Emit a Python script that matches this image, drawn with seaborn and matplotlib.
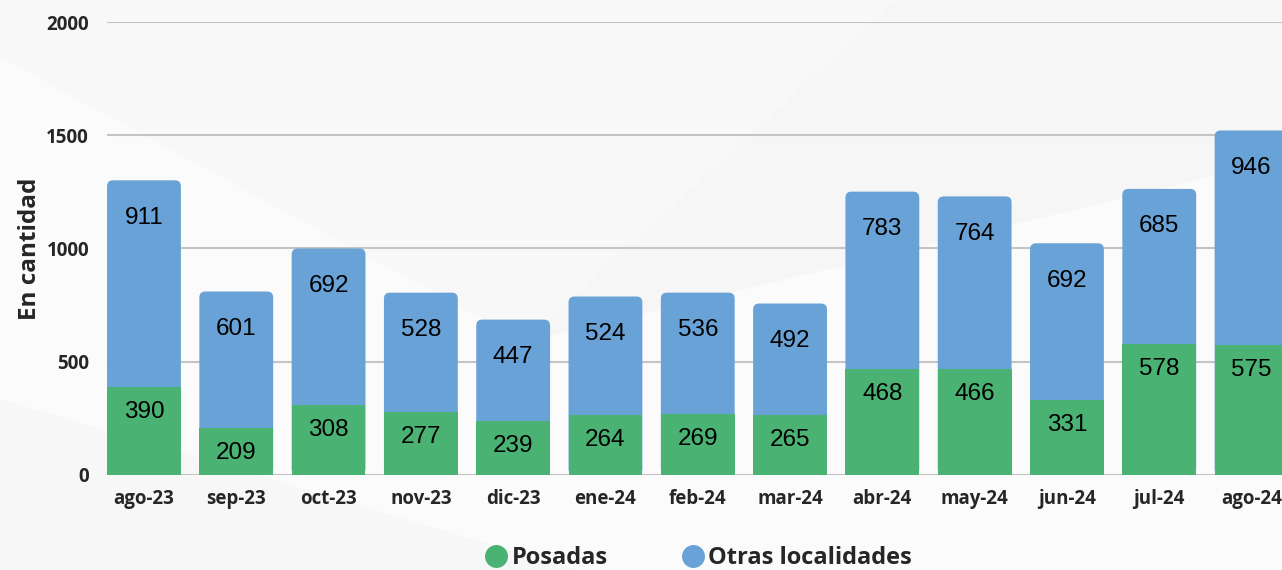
import numpy as np
import pandas as pd
import matplotlib
matplotlib.use('Agg')
import matplotlib.pyplot as plt
import seaborn as sns
from matplotlib.patches import FancyBboxPatch, Polygon
from matplotlib.lines import Line2D

months = ['ago-23', 'sep-23', 'oct-23', 'nov-23', 'dic-23', 'ene-24', 'feb-24',
          'mar-24', 'abr-24', 'may-24', 'jun-24', 'jul-24', 'ago-24']
posadas = [390, 209, 308, 277, 239, 264, 269, 265, 468, 466, 331, 578, 575]
otras = [911, 601, 692, 528, 447, 524, 536, 492, 783, 764, 692, 685, 946]
yticks = [0, 500, 1000, 1500, 2000]

green = '#4ab374'
blue = '#68a2d6'

df = pd.DataFrame({'mes': months, 'Posadas': posadas, 'Otras localidades': otras})
df['total'] = df['Posadas'] + df['Otras localidades']

sns.set_style('white')
plt.rcParams['font.family'] = ['Open Sans', 'DejaVu Sans']

fig = plt.figure(figsize=(12.82, 5.70), dpi=100, facecolor='#fbfbfb')
# faint background shapes
fig.patches.append(Polygon([[0, 0.9], [0.41, 0.4], [0.8, 0.72], [0.8, 1], [0, 1]],
                           closed=True, transform=fig.transFigure, facecolor='#f8f8f8',
                           edgecolor='none', zorder=-2))
fig.patches.append(Polygon([[0.41, 0.4], [0.7, 1], [1, 1], [1, 0.72]],
                           closed=True, transform=fig.transFigure, facecolor='#f6f6f6',
                           edgecolor='none', zorder=-2))
fig.patches.append(Polygon([[0, 0.3], [0.45, 0], [0, 0]],
                           closed=True, transform=fig.transFigure, facecolor='#f7f7f7',
                           edgecolor='none', zorder=-2))

ax = fig.add_axes([0.0835, 0.1667, 0.9165, 0.7947])
ax.set_facecolor('none')

sns.barplot(data=df, x='mes', y='total', color=blue, saturation=1, width=0.8, ax=ax,
            zorder=2, linewidth=0, edgecolor='none')
sns.barplot(data=df, x='mes', y='Posadas', color=green, saturation=1, width=0.8, ax=ax,
            zorder=3, linewidth=0, edgecolor='none')

ax.set_xlim(-0.4, 12.33)
ax.set_ylim(0, 2000)
ax.set_yticks(yticks)
ax.yaxis.grid(True, color='#c4c4c4', linewidth=1.5, zorder=0)
ax.set_axisbelow(True)
for s in ax.spines.values():
    s.set_visible(False)

# round the top corners of the blue bars
fig.canvas.draw()
px_x = ax.transData.transform((1, 0))[0] - ax.transData.transform((0, 0))[0]
px_y = ax.transData.transform((0, 1))[1] - ax.transData.transform((0, 0))[1]
aspect = px_x / px_y
r = 6 / px_x
for bar in list(ax.containers[0]):
    x0, y0, w, h = bar.get_x(), bar.get_y(), bar.get_width(), bar.get_height()
    rb = FancyBboxPatch((x0, y0), w, h, boxstyle=f'round,pad=0,rounding_size={r}',
                        mutation_aspect=aspect, facecolor=blue, edgecolor='none',
                        linewidth=0, zorder=2)
    bar.remove()
    ax.add_patch(rb)

for i, (p, o) in enumerate(zip(posadas, otras)):
    ax.annotate(str(o), (i, p + o), xytext=(0, -27), textcoords='offset points',
                ha='center', va='center', fontsize=17.5, family='Liberation Sans',
                color='black', zorder=5)
    ax.annotate(str(p), (i, p), xytext=(0, -18), textcoords='offset points',
                ha='center', va='center', fontsize=17.5, family='Liberation Sans',
                color='black', zorder=5)

ax.set_xlabel('')
ax.set_ylabel('En cantidad', fontsize=17.5, fontweight='bold', labelpad=3)
ax.tick_params(axis='both', length=0, labelsize=13.5)
ax.tick_params(axis='x', pad=10)
ax.tick_params(axis='y', pad=13)
for lab in ax.get_xticklabels() + ax.get_yticklabels():
    lab.set_fontweight('bold')

handles = [Line2D([], [], marker='o', linestyle='none', markersize=16.5, color=green,
                  markeredgewidth=0),
           Line2D([], [], marker='o', linestyle='none', markersize=16.5, color=blue,
                  markeredgewidth=0)]
fig.legend(handles, ['Posadas', 'Otras localidades'], loc='center',
           bbox_to_anchor=(0.5445, 0.021), ncol=2, frameon=False,
           prop={'size': 17, 'weight': 'bold'}, handletextpad=0.15,
           columnspacing=3.1, handlelength=1.0)

fig.savefig('out.png', dpi=100, facecolor=fig.get_facecolor())
